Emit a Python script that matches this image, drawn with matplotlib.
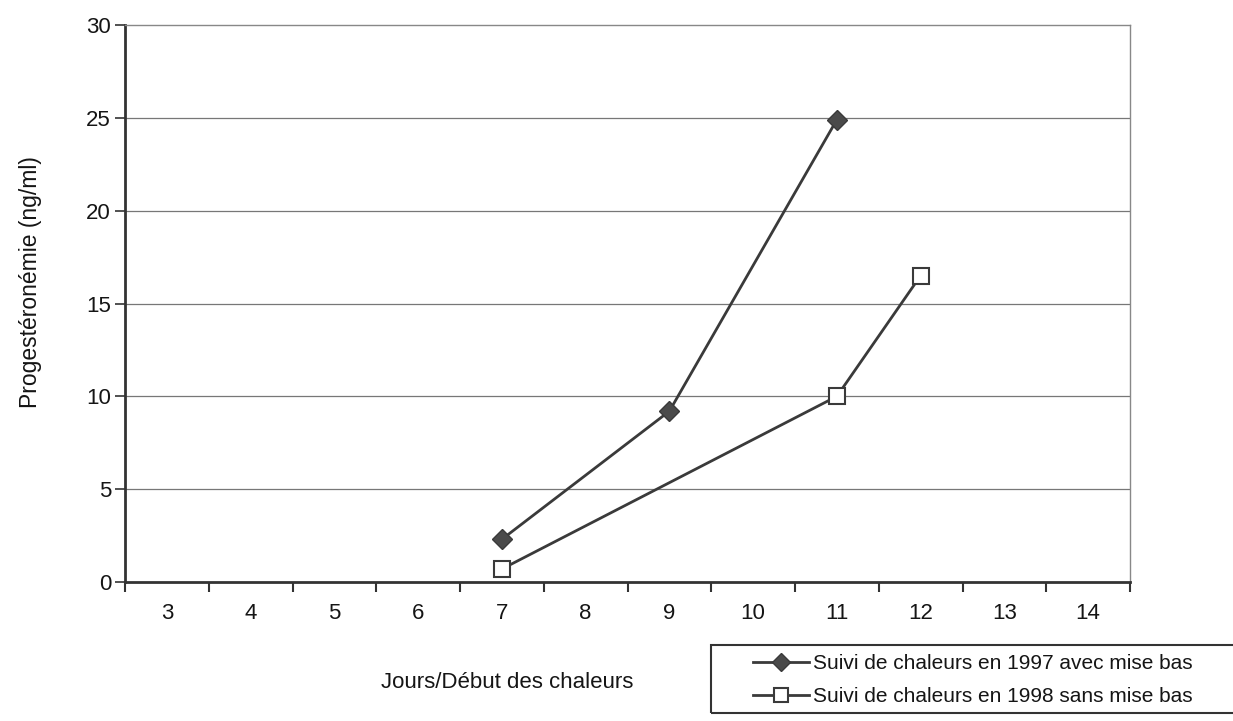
import matplotlib
matplotlib.use("Agg")
import matplotlib.pyplot as plt
import numpy as np
from matplotlib.patches import Rectangle

# Data
days = ["3", "4", "5", "6", "7", "8", "9", "10", "11", "12", "13", "14"]
s1997_days = ["7", "9", "11"]
s1997_vals = [2.3, 9.2, 24.9]
s1998_days = ["7", "11", "12"]
s1998_vals = [0.7, 10.0, 16.5]
label1997 = "Suivi de chaleurs en 1997 avec mise bas"
label1998 = "Suivi de chaleurs en 1998 sans mise bas"
yticks = [0, 5, 10, 15, 20, 25, 30]

plt.rcParams['font.family'] = ['Liberation Sans', 'DejaVu Sans']

W, H = 1233, 721
fig = plt.figure(figsize=(W / 100, H / 100), dpi=100)
fig.patch.set_facecolor('white')

left, right, top, bottom = 125, 1130, 25, 582
ax = fig.add_axes([left / W, 1 - bottom / H, (right - left) / W, (bottom - top) / H])

idx = {d: i for i, d in enumerate(days)}
x97 = [idx[d] for d in s1997_days]
x98 = [idx[d] for d in s1998_days]

lc = '#3a3a3a'
l1, = ax.plot(x97, s1997_vals, color=lc, lw=2, marker='D', markersize=10,
              markerfacecolor='#4a4a4a', markeredgecolor='#3a3a3a', zorder=3)
l2, = ax.plot(x98, s1998_vals, color=lc, lw=2, marker='s', markersize=11,
              markerfacecolor='white', markeredgecolor='#3a3a3a', markeredgewidth=1.5, zorder=3)

ax.set_xlim(-0.5, len(days) - 0.5)
ax.set_ylim(0, 30)

fs = 16
tc = '#151515'
ax.set_yticks(yticks)
ax.set_yticklabels([str(v) for v in yticks], fontsize=fs, color=tc)
ax.set_xticks(np.arange(len(days) + 1) - 0.5)
ax.set_xticklabels([])
ax.set_xticks(np.arange(len(days)), minor=True)
ax.set_xticklabels(days, minor=True, fontsize=fs, color=tc)
ax.tick_params(axis='x', which='major', direction='out', length=7, width=1.5, color='#333')
ax.tick_params(axis='x', which='minor', length=0, pad=15)
ax.tick_params(axis='y', direction='out', length=7, width=1.2, color='#333', pad=3)

for v in yticks[1:-1]:
    ax.axhline(v, color='#777777', lw=0.9, zorder=1)

for s in ['left', 'bottom']:
    ax.spines[s].set_color('#333333')
    ax.spines[s].set_linewidth(2)
for s in ['top', 'right']:
    ax.spines[s].set_color('#888888')
    ax.spines[s].set_linewidth(1)

fig.text(30 / W, 1 - 282 / H, "Progestéronémie (ng/ml)", rotation=90,
         ha='center', va='center', fontsize=16.5, color=tc)
fig.text(507 / W, 1 - 682 / H, "Jours/Début des chaleurs",
         ha='center', va='center', fontsize=fs, color=tc)

# legend frame
fig.patches.append(Rectangle((711 / W, 1 - 713 / H), (W + 10 - 711) / W, (713 - 645) / H,
                             transform=fig.transFigure, fill=False, edgecolor='#333',
                             lw=1.5, clip_on=False))
leg = fig.legend([l1, l2], [label1997, label1998], loc='upper left',
                 bbox_to_anchor=(753 / W, 1 - 654 / H), frameon=False, fontsize=15,
                 handlelength=2.7, handletextpad=0.2, borderpad=0, borderaxespad=0,
                 labelspacing=0.68, markerscale=0.9)
for t in leg.get_texts():
    t.set_color(tc)

fig.savefig("out.png", dpi=100, facecolor='white')
